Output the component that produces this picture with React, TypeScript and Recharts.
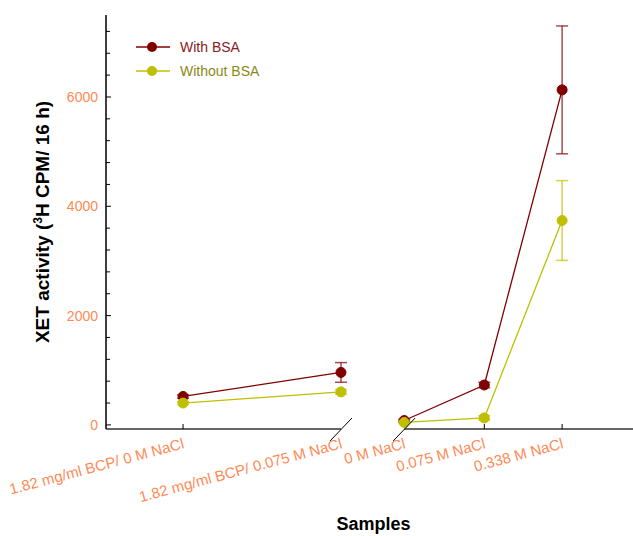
import { LineChart, Line, XAxis, YAxis, ErrorBar, ReferenceLine, Label } from 'recharts';

// sample names, in order along the x axis
const samples = [
  '1.82 mg/ml BCP/ 0 M NaCl',
  '1.82 mg/ml BCP/ 0.075 M NaCl',
  '0 M NaCl',
  '0.075 M NaCl',
  '0.338 M NaCl',
];
// positions along the (broken) x axis
const positions = [1, 3.05, 3.87, 4.91, 5.92];
const xMax = 6.84;

const withBsa = [520, 960, 80, 730, 6130];
const withBsaErr = [30, 180, 20, 50, 1170];
const withoutBsa = [400, 604, 45, 128, 3740];
const withoutBsaErr = [25, 40, 15, 40, 730];

const yTicks = [0, 400, 800, 1200, 1600, 2000, 2400, 2800, 3200, 3600, 4000, 4400, 4800, 5200, 5600, 6000, 6400, 6800, 7200];
const yMajor = [0, 2000, 4000, 6000];
const yMin = -75;
const yMax = 7500;

// the axis is broken between these two samples
const breakAfter = 1;

const FONT = '"Liberation Sans", Arial, sans-serif';
const ORANGE = '#ff8a55';
const MAROON = '#800000';
const YELLOW = '#bfbf00';

const rows = samples.map((s, i) => ({
  x: positions[i],
  name: s,
  withBsa: withBsa[i],
  withBsaErr: withBsaErr[i],
  withoutBsa: withoutBsa[i],
  withoutBsaErr: withoutBsaErr[i],
}));
const leftRows = rows.slice(0, breakAfter + 1);
const rightRows = rows.slice(breakAfter + 1);

function XTick(props: any) {
  const { x, y, index } = props;
  const isBreak = index === breakAfter || index === breakAfter + 1;
  return (
    <g>
      {isBreak ? (
        <line x1={x - 11} y1={y + 12} x2={x + 11} y2={y - 11} stroke="#000" strokeWidth={1} />
      ) : (
        <line x1={x} y1={y} x2={x} y2={y - 5} stroke="#000" strokeWidth={1} />
      )}
      <text
        x={x + 2}
        y={y + 19}
        transform={`rotate(-15, ${x + 2}, ${y + 19})`}
        textAnchor="end"
        fill={ORANGE}
        fontSize={15}
        fontFamily={FONT}
      >
        {samples[index]}
      </text>
    </g>
  );
}

function YTick(props: any) {
  const { x, y, payload } = props;
  const major = yMajor.includes(payload.value);
  return (
    <g>
      <line x1={x} y1={y} x2={x + (major ? 5 : 4)} y2={y} stroke="#000" strokeWidth={1} />
      {major && (
        <text x={x - 8} y={y + 5} textAnchor="end" fill={ORANGE} fontSize={14} fontFamily={FONT}>
          {payload.value}
        </text>
      )}
    </g>
  );
}

function LegendBox() {
  const items = [
    { label: 'With BSA', color: MAROON, text: '#8b1a1a' },
    { label: 'Without BSA', color: YELLOW, text: '#8a8a14' },
  ];
  return (
    <div style={{ position: 'absolute', left: 136, top: 35, fontFamily: FONT, fontSize: 14 }}>
      {items.map((it) => (
        <div key={it.label} style={{ display: 'flex', alignItems: 'center', height: 24 }}>
          <svg width={44} height={12}>
            <line x1={0} y1={6} x2={34} y2={6} stroke={it.color} strokeWidth={1.5} />
            <circle cx={16} cy={6} r={5} fill={it.color} />
          </svg>
          <span style={{ color: it.text }}>{it.label}</span>
        </div>
      ))}
    </div>
  );
}

export default function App() {
  return (
    <div style={{ position: 'absolute', left: 0, top: 0, width: 633, height: 536, background: '#fff' }}>
      <LineChart width={633} height={536} margin={{ top: 15, right: 0, left: 0, bottom: 0 }}>
        <XAxis
          dataKey="x"
          type="number"
          domain={[0, xMax]}
          ticks={positions}
          axisLine={false}
          tickLine={false}
          tickSize={0}
          tickMargin={0}
          height={107}
          tick={<XTick />}
          interval={0}
        >
          <Label
            content={({ viewBox }: any) => (
              <text
                x={viewBox.x + viewBox.width / 2 + 4}
                y={viewBox.y + 101}
                textAnchor="middle"
                fontSize={18}
                fontWeight="bold"
                fontFamily={FONT}
                fill="#000"
              >
                Samples
              </text>
            )}
          />
        </XAxis>
        <YAxis
          type="number"
          domain={[yMin, yMax]}
          ticks={yTicks}
          width={106}
          axisLine={{ stroke: '#000', strokeWidth: 1.5 }}
          tickLine={false}
          tickSize={0}
          tickMargin={0}
          tick={<YTick />}
          interval={0}
        >
          <Label
            content={({ viewBox }: any) => {
              const cx = viewBox.x + 49;
              const cy = viewBox.y + viewBox.height / 2;
              return (
                <text
                  x={cx}
                  y={cy}
                  transform={`rotate(-90, ${cx}, ${cy})`}
                  textAnchor="middle"
                  fontSize={19}
                  fontWeight="bold"
                  fontFamily={FONT}
                  fill="#000"
                >
                  XET activity (<tspan dy={-7} fontSize={12}>3</tspan>
                  <tspan dy={7}>H CPM/ 16 h)</tspan>
                </text>
              );
            }}
          />
        </YAxis>
        {/* broken x axis line */}
        <ReferenceLine
          segment={[{ x: 0, y: yMin }, { x: positions[breakAfter], y: yMin }]}
          stroke="#333"
          strokeWidth={1.5}
        />
        <ReferenceLine
          segment={[{ x: positions[breakAfter + 1], y: yMin }, { x: xMax, y: yMin }]}
          stroke="#333"
          strokeWidth={1.5}
        />
        {[leftRows, rightRows].map((d, k) => (
          <Line
            key={`w${k}`}
            data={d}
            dataKey="withBsa"
            name="With BSA"
            stroke={MAROON}
            strokeWidth={1.3}
            dot={{ r: 5, fill: MAROON, stroke: MAROON, strokeWidth: 1 }}
            isAnimationActive={false}
          >
            <ErrorBar dataKey="withBsaErr" width={6} stroke={MAROON} strokeOpacity={0.7} strokeWidth={1.5} />
          </Line>
        ))}
        {[leftRows, rightRows].map((d, k) => (
          <Line
            key={`wo${k}`}
            data={d}
            dataKey="withoutBsa"
            name="Without BSA"
            stroke={YELLOW}
            strokeWidth={1.3}
            dot={{ r: 5, fill: YELLOW, stroke: YELLOW, strokeWidth: 1 }}
            isAnimationActive={false}
          >
            <ErrorBar dataKey="withoutBsaErr" width={6} stroke={YELLOW} strokeOpacity={0.7} strokeWidth={1.5} />
          </Line>
        ))}
      </LineChart>
      <LegendBox />
    </div>
  );
}
